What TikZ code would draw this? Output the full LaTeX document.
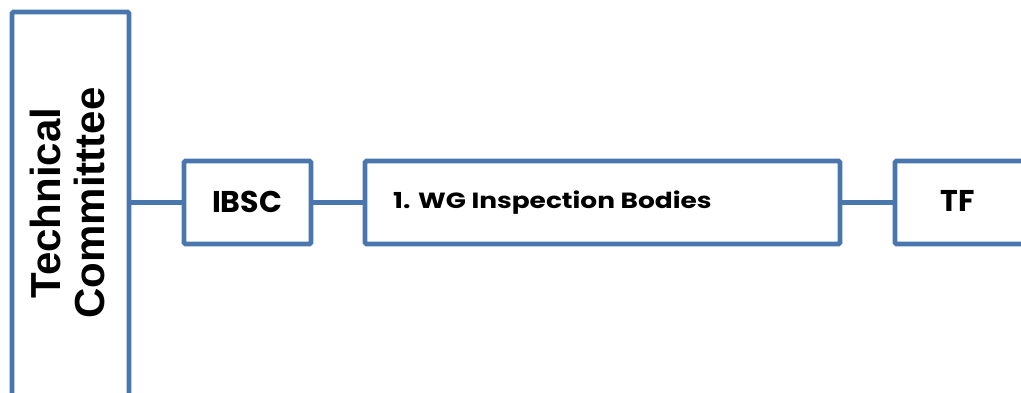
\documentclass[tikz,border=0pt]{standalone}
\usepackage{fontspec}
\setmainfont{Liberation Sans}
\newfontfamily\rale[FakeStretch=1.2]{Poppins}
\newfontfamily\raleb{Poppins}
\definecolor{boxblue}{RGB}{74,118,174}
\begin{document}
\begin{tikzpicture}[x=1pt,y=-1pt,
  box/.style={draw=boxblue, line width=4.8pt, rounded corners=1.5pt, fill=white, inner sep=0pt},
  conn/.style={draw=boxblue, line width=4.8pt},
  lbl/.style={inner sep=0pt, anchor=base}]
\useasboundingbox (0,0) rectangle (1021,392);
\node[box, minimum width=117pt, minimum height=392pt] (tc) at (70.5,208) {};
\node[rotate=90, inner sep=0pt, font=\bfseries\fontsize{42}{44}\selectfont, align=center] (tct) at (67,203) {Technical\\Committtee};
\node[box, minimum width=127pt, minimum height=83pt] (ibsc) at (247.5,202.5) {};
\node[lbl, font=\raleb\bfseries\fontsize{30}{32}\selectfont] (ibsct) at (247,212) {IBSC};
\node[box, minimum width=475pt, minimum height=83pt] (wg) at (602.5,202.5) {};
\node[lbl, font=\rale\bfseries\fontsize{22}{24}\selectfont, anchor=base west] (wgt) at (393,208) {1. WG Inspection Bodies};
\node[box, minimum width=140pt, minimum height=83pt] (tf) at (965,202.5) {};
\node[lbl, font=\raleb\bfseries\fontsize{30}{32}\selectfont] (tft) at (957.5,211.5) {TF};
\draw[conn] (tc.east |- ibsc.west) -- (ibsc.west);
\draw[conn] (ibsc.east) -- (wg.west);
\draw[conn] (wg.east) -- (tf.west);
\end{tikzpicture}
\end{document}
